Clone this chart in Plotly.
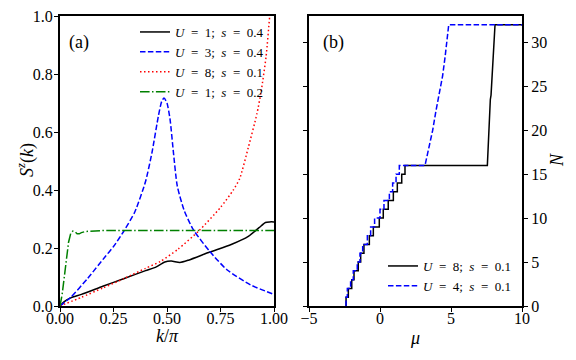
import plotly.graph_objects as go

# panel (a): S^z(k) against k/pi
k_u1s04 = [0, 0.02, 0.05, 0.1, 0.2, 0.3, 0.4, 0.45, 0.49, 0.52, 0.56, 0.6, 0.7, 0.8, 0.88, 0.93, 0.96, 0.98, 1.0]
s_u1s04 = [0, 0.015, 0.028, 0.04, 0.068, 0.095, 0.122, 0.135, 0.152, 0.155, 0.15, 0.158, 0.186, 0.212, 0.24, 0.27, 0.288, 0.29, 0.29]

k_u3s04 = [0, 0.05, 0.13, 0.21, 0.25, 0.3, 0.35, 0.4, 0.43, 0.46, 0.475, 0.486, 0.5, 0.514, 0.53, 0.548, 0.58, 0.623, 0.7, 0.78, 0.89, 1.0]
s_u3s04 = [0, 0.03, 0.096, 0.169, 0.205, 0.26, 0.325, 0.43, 0.53, 0.656, 0.705, 0.7175, 0.70, 0.645, 0.53, 0.414, 0.33, 0.263, 0.188, 0.125, 0.073, 0.04]

k_u8s01 = [0, 0.1, 0.2, 0.3, 0.4, 0.47, 0.55, 0.65, 0.75, 0.81, 0.84, 0.88, 0.92, 0.94, 0.963, 0.98, 1.0]
s_u8s01 = [0, 0.03, 0.062, 0.095, 0.13, 0.154, 0.195, 0.26, 0.34, 0.40, 0.44, 0.547, 0.662, 0.74, 0.86, 1.0, 1.15]

k_u1s02 = [0, 0.01, 0.02, 0.03, 0.04, 0.05, 0.06, 0.07, 0.08, 0.09, 0.1, 0.12, 0.15, 0.2, 0.3, 0.5, 0.75, 1.0]
s_u1s02 = [0, 0.04, 0.1, 0.16, 0.22, 0.25, 0.258, 0.256, 0.249, 0.249, 0.253, 0.257, 0.258, 0.26, 0.26, 0.26, 0.26, 0.26]

# panel (b): N against mu
# mu where N goes up by one (N = 1..16)
mu_jump_u8 = [-2.39, -2.23, -1.99, -1.83, -1.53, -1.36, -1.13, -0.75, -0.47, -0.05, 0.23, 0.58, 0.94, 1.22, 1.53, 1.76]
mu_jump_u4 = [-2.39, -2.30, -2.07, -1.88, -1.60, -1.41, -1.22, -0.89, -0.66, -0.38, 0.0, 0.28, 0.66, 0.89, 1.13, 1.36]
# upper branch, above half filling
mu_top_u8 = [7.56, 7.70, 7.74, 7.77, 7.82, 7.86, 8.1, 10.0]
n_top_u8 = [16, 21.5, 22.2, 23.5, 24, 25, 32, 32]
mu_top_u4 = [3.17, 3.71, 3.94, 4.18, 4.41, 4.58, 4.74, 4.84, 10.0]
n_top_u4 = [16, 20, 22.2, 24.3, 26.2, 28.3, 30.9, 32, 32]


def stairs(jumps, mu_top, n_top):
    xs, ys = [], []
    for i, m in enumerate(jumps):
        xs += [m, m]
        ys += [i, i + 1]
    return xs + mu_top, ys + n_top


W, H, OFF = 576, 360, 8   # page body adds an 8px margin


def px(x):
    return (x - OFF) / W


def py(y):
    return 1 - (y - OFF) / H


FONT = "Liberation Serif"
DASH = "5.5px,2.4px"
DOT = "1.5px,2.5px"
DASHDOT = "9.6px,2.4px,1.5px,2.4px"
SP = "\u2002"


def lab(u, s):
    return f"<i>U</i>{SP}={SP}{u};{SP}<i>s</i>{SP}={SP}{s}"


fig = go.Figure()

fig.add_trace(go.Scatter(x=k_u1s04, y=s_u1s04, mode="lines", line=dict(color="black", width=1.5, shape="spline", smoothing=0.6),
                         name=lab(1, 0.4), legend="legend"))
fig.add_trace(go.Scatter(x=k_u3s04, y=s_u3s04, mode="lines", line=dict(color="#0000ff", width=1.5, dash=DASH, shape="spline", smoothing=0.6),
                         name=lab(3, 0.4), legend="legend"))
fig.add_trace(go.Scatter(x=k_u8s01, y=s_u8s01, mode="lines", line=dict(color="#ff0000", width=1.5, dash=DOT, shape="spline", smoothing=0.6),
                         name=lab(8, 0.1), legend="legend"))
fig.add_trace(go.Scatter(x=k_u1s02, y=s_u1s02, mode="lines", line=dict(color="#008000", width=1.5, dash=DASHDOT),
                         name=lab(1, 0.2), legend="legend"))

x8, y8 = stairs(mu_jump_u8, mu_top_u8, n_top_u8)
x4, y4 = stairs(mu_jump_u4, mu_top_u4, n_top_u4)
fig.add_trace(go.Scatter(x=x8, y=y8, mode="lines", line=dict(color="black", width=1.5),
                         name=lab(8, 0.1), xaxis="x2", yaxis="y2", legend="legend2"))
fig.add_trace(go.Scatter(x=x4, y=y4, mode="lines", line=dict(color="#0000ff", width=1.5, dash=DASH),
                         name=lab(4, 0.1), xaxis="x2", yaxis="y2", legend="legend2"))

ax = dict(showline=True, linewidth=2, linecolor="black", mirror=True, showgrid=False, zeroline=False, automargin=False,
          ticks="outside", ticklen=4, tickwidth=1, tickcolor="black", ticklabeloverflow="allow",
          tickfont=dict(family=FONT, size=16, color="black"))

fig.update_layout(
    width=W, height=H,
    margin=dict(l=0, r=0, t=0, b=0, autoexpand=False),
    plot_bgcolor="white", paper_bgcolor="white",
    font=dict(family=FONT, color="black"),
    xaxis=dict(ax, domain=[px(60), px(274)], range=[0, 1], tickvals=[0, 0.25, 0.5, 0.75, 1.0],
               ticktext=["0.00", "0.25", "0.50", "0.75", "1.00"], ticklabelstandoff=-7),
    yaxis=dict(ax, domain=[py(306), py(16)], range=[0, 1], tickvals=[0, 0.2, 0.4, 0.6, 0.8, 1.0],
               ticktext=["0.0", "0.2", "0.4", "0.6", "0.8", "1.0"], ticklabelstandoff=-2),
    xaxis2=dict(ax, domain=[px(309), px(522)], range=[-5, 10], tickvals=[-5, 0, 5, 10], anchor="y2",
                ticklabelstandoff=-7),
    yaxis2=dict(ax, domain=[py(306), py(16)], range=[0, 33], tickvals=[0, 5, 10, 15, 20, 25, 30], anchor="x2",
                side="right", mirror="allticks"),
    legend=dict(x=px(135), y=py(17), xanchor="left", yanchor="top", bgcolor="rgba(0,0,0,0)",
                font=dict(family=FONT, size=13), tracegroupgap=0),
    legend2=dict(x=px(383), y=py(251), xanchor="left", yanchor="top", bgcolor="rgba(0,0,0,0)",
                 font=dict(family=FONT, size=13), tracegroupgap=0),
    annotations=[
        dict(text="(a)", xref="x domain", yref="y domain", x=0.09, y=0.91, xanchor="center", yanchor="middle",
             showarrow=False, font=dict(family=FONT, size=18)),
        dict(text="(b)", xref="x2 domain", yref="y2 domain", x=0.113, y=0.91, xanchor="center", yanchor="middle",
             showarrow=False, font=dict(family=FONT, size=18)),
        dict(text="<i>k</i>/<i>π</i>", xref="paper", yref="paper", x=px(167), y=py(336), xanchor="center",
             yanchor="middle", showarrow=False, font=dict(family=FONT, size=18)),
        dict(text="<i>μ</i>", xref="paper", yref="paper", x=px(415), y=py(338), xanchor="center",
             yanchor="middle", showarrow=False, font=dict(family=FONT, size=18)),
        dict(text="<i>S<sup>z</sup></i>(<i>k</i>)", xref="paper", yref="paper", x=px(26), y=py(160), xanchor="center",
             yanchor="middle", showarrow=False, textangle=-90, font=dict(family=FONT, size=18)),
        dict(text="<i>N</i>", xref="paper", yref="paper", x=px(557), y=py(160), xanchor="center",
             yanchor="middle", showarrow=False, textangle=-90, font=dict(family=FONT, size=18)),
    ],
)

fig.write_html("out.html")
